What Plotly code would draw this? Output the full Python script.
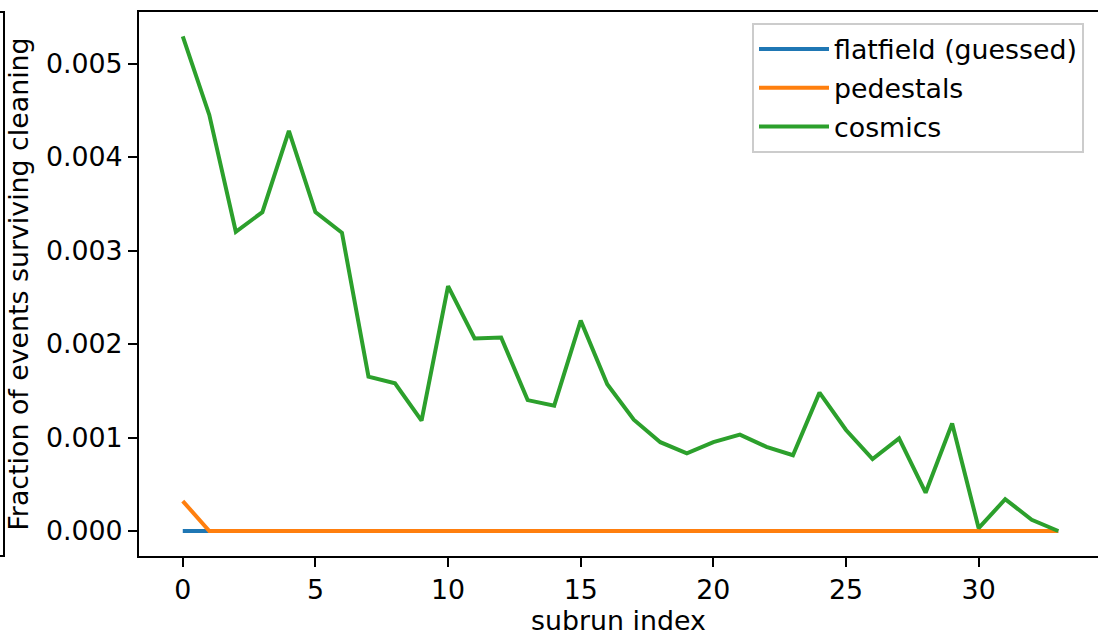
import plotly.graph_objects as go

subrun = list(range(34))
flatfield = [0.0] * 34
pedestals = [0.00032] + [0.0] * 33
cosmics = [0.00529, 0.00445, 0.00320, 0.00341, 0.00428, 0.00341, 0.00319, 0.00165,
           0.00158, 0.00118, 0.00262, 0.00206, 0.00207, 0.00140, 0.00134, 0.00225,
           0.00157, 0.00119, 0.00095, 0.00083, 0.00095, 0.00103, 0.00090, 0.00081,
           0.00148, 0.00108, 0.00077, 0.00099, 0.00041, 0.00115, 0.00003, 0.00034,
           0.00012, 0.0]

xticks = [0, 5, 10, 15, 20, 25, 30]
yticks = [0.0, 0.001, 0.002, 0.003, 0.004, 0.005]
yticklabels = ["0.000", "0.001", "0.002", "0.003", "0.004", "0.005"]

FONT = "DejaVu Sans"
FS = 26.8
fig = go.Figure()
fig.add_trace(go.Scatter(x=subrun, y=flatfield, mode="lines", name="flatfield (guessed)",
                         line=dict(color="#1f77b4", width=4), legendgroup="a"))
fig.add_trace(go.Scatter(x=subrun, y=pedestals, mode="lines", name="pedestals",
                         line=dict(color="#ff7f0e", width=4), legendgroup="b"))
fig.add_trace(go.Scatter(x=subrun, y=cosmics, mode="lines", name="cosmics",
                         line=dict(color="#2ca02c", width=4), legendgroup="c"))

W, H = 1098, 639
L, T, B = 139, 12, 83
pw = W - L
ph = H - T - B

def px2paperx(px):
    return (px - L) / pw

def py2papery(py):
    return (H - B - py) / ph

fig.update_layout(
    width=W, height=H,
    margin=dict(l=L, r=0, t=T, b=B, autoexpand=False),
    paper_bgcolor="white", plot_bgcolor="white",
    font=dict(family=FONT, size=FS, color="black"),
    showlegend=True,
    legend=dict(x=px2paperx(752), y=py2papery(23), xanchor="left", yanchor="top",
                bordercolor="#cccccc", borderwidth=2, bgcolor="white",
                font=dict(family=FONT, size=FS, color="black"),
                traceorder="grouped", tracegroupgap=1, itemwidth=70),
    xaxis=dict(range=[-1.65, -1.65 + pw / 26.53], tickmode="array", tickvals=xticks,
               ticktext=[str(v) for v in xticks],
               showgrid=False, zeroline=False, showline=True, mirror=True,
               linecolor="black", linewidth=2, ticks="outside", ticklen=9, tickwidth=2,
               tickcolor="black",
               title=dict(text="subrun index", font=dict(family=FONT, size=FS), standoff=6)),
    yaxis=dict(range=[-(556 - 531) / 93500, (531 - 12) / 93500], tickmode="array",
               tickvals=yticks, ticktext=yticklabels,
               showgrid=False, zeroline=False, showline=True, mirror=False,
               linecolor="black", linewidth=2, ticks="outside", ticklen=9, tickwidth=2,
               tickcolor="black",
               title=dict(text="Fraction of events surviving cleaning",
                          font=dict(family=FONT, size=FS), standoff=10)),
)

# partial frame of a neighbouring panel at the far left edge
x0 = px2paperx(0)
x1 = px2paperx(4)
fig.add_shape(type="path", xref="paper", yref="paper",
              path=f"M {x0},{py2papery(12)} L {x1},{py2papery(12)} L {x1},{py2papery(556)} L {x0},{py2papery(556)}",
              line=dict(color="black", width=2))

fig.write_html("out.html", config={"displayModeBar": False},
               post_script="document.body.style.margin='0';document.body.style.padding='0';")
